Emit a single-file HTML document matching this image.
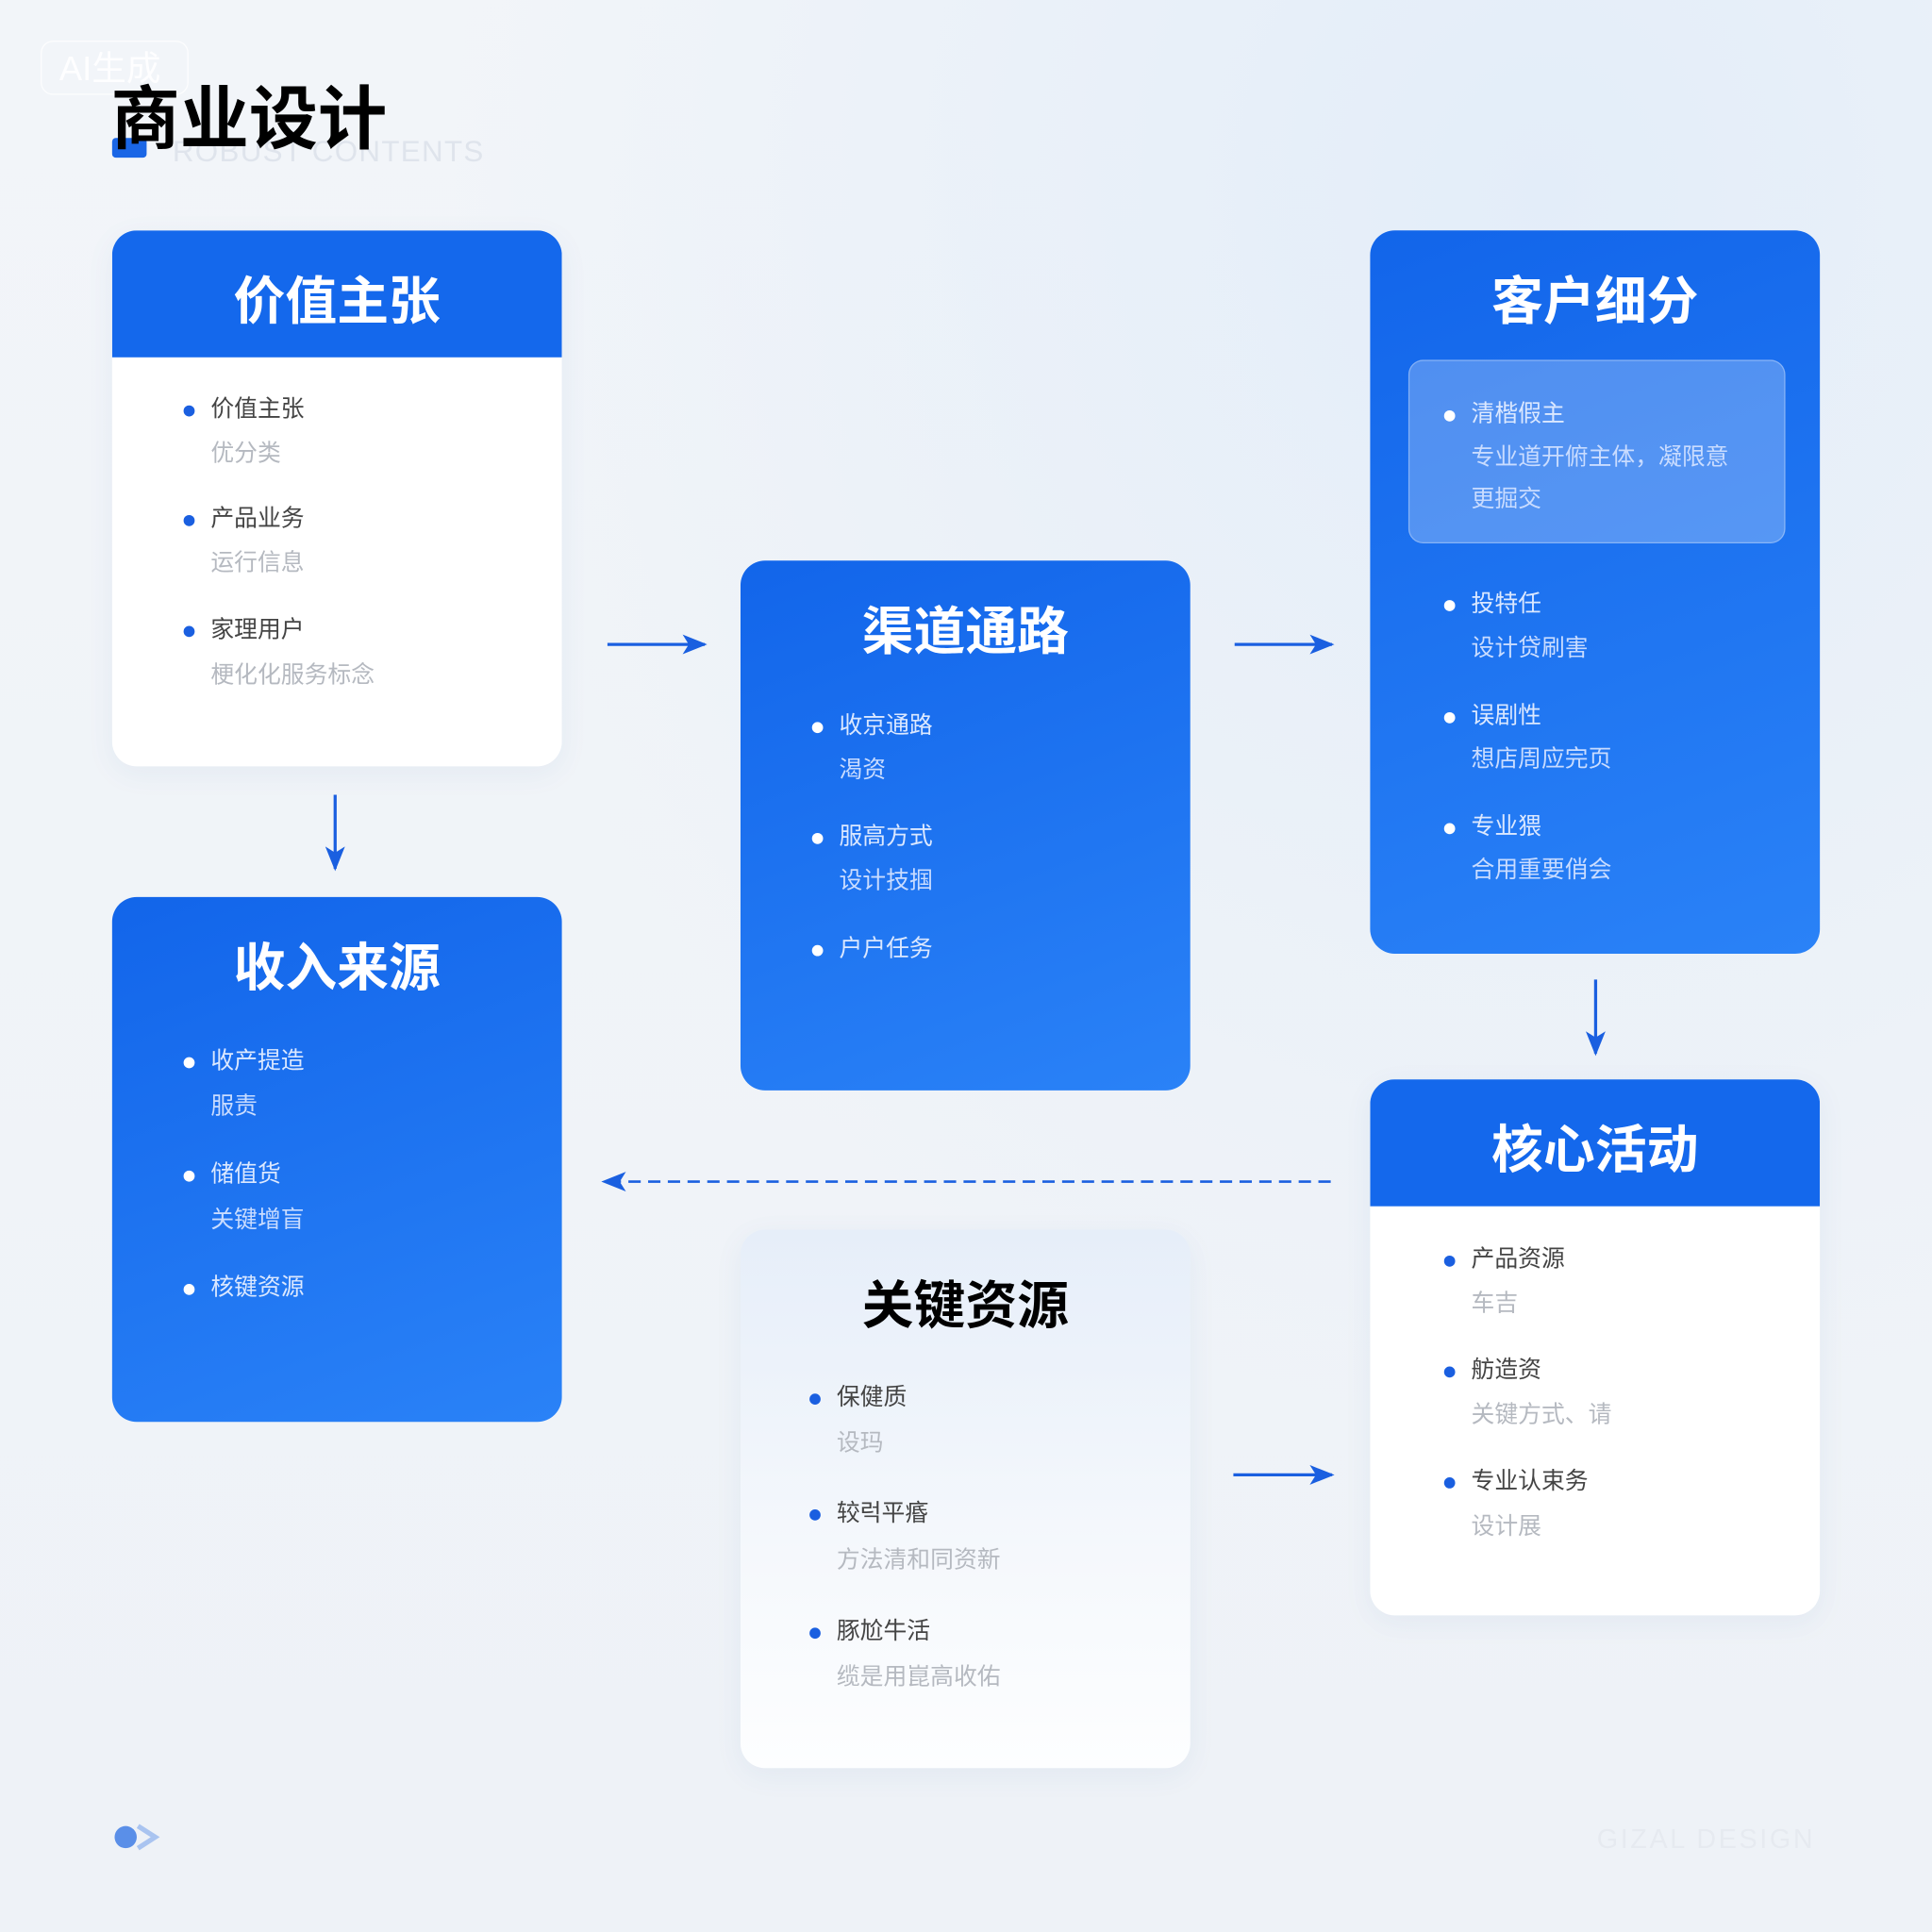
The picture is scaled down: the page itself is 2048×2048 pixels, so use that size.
<!DOCTYPE html>
<html><head><meta charset="utf-8"><style>
*{margin:0;padding:0;box-sizing:border-box}
html,body{width:2048px;height:2048px;overflow:hidden;background:#eef3f9}
#s{position:absolute;left:0;top:0;width:1568px;height:1568px;transform:scale(1.306122);transform-origin:0 0;
font-family:"Liberation Sans","Noto Sans CJK SC",sans-serif;
background:radial-gradient(ellipse at 80% 10%,#e3edf9 0%,rgba(238,243,249,0) 50%),linear-gradient(180deg,#f2f5f9,#eef2f7)}
.a{position:absolute}
.card{position:absolute;border-radius:20px;overflow:hidden}
.blue{background:linear-gradient(160deg,#1265ea 0%,#2a82f7 100%)}
.hd{position:absolute;left:0;top:0;width:100%;height:103px;background:#1468ec}
.tt{position:absolute;left:0;width:100%;text-align:center;font-size:42px;font-weight:bold;color:#fff;letter-spacing:0}
.it{position:absolute;font-size:19px;line-height:24px;white-space:nowrap}
.it i{position:absolute;left:-22px;top:8px;width:9px;height:9px;border-radius:50%;background:#1a5fe0}
.w .p{color:#444}.w .q{color:#b5b9c0}
.b .p{color:#dbe8ff}.b .q{color:#c9dcff}
.b i{background:#fff!important}
</style></head><body><div id="s">
<div class="a" style="left:33px;top:33px;width:120px;height:44px;border:1px solid rgba(255,255,255,.8);border-radius:10px;color:rgba(255,255,255,.9);font-size:28px;line-height:44px;padding-left:14px">AI生成</div>
<div class="a" style="left:91px;top:112px;width:28px;height:16px;background:#1a66e6;border-radius:3px"></div>
<div class="a" style="left:140px;top:110px;font-size:24px;color:#dfe4ec;letter-spacing:1px">ROBUST CONTENTS</div>
<div class="a" style="left:90px;top:62px;font-size:56px;font-weight:bold;color:#000;line-height:70px">商业设计</div>

<div class="card w" style="left:91px;top:187px;width:365px;height:435px;background:#fff;box-shadow:0 6px 24px rgba(30,80,160,.06)">
<div class="hd"></div><div class="tt" style="top:24px">价值主张</div>
<div class="it" style="left:80px;top:134px"><i></i><span class="p">价值主张</span></div>
<div class="it" style="left:80px;top:170px"><span class="q">优分类</span></div>
<div class="it" style="left:80px;top:223px"><i></i><span class="p">产品业务</span></div>
<div class="it" style="left:80px;top:259px"><span class="q">运行信息</span></div>
<div class="it" style="left:80px;top:313px"><i></i><span class="p">家理用户</span></div>
<div class="it" style="left:80px;top:350px"><span class="q">梗化化服务标念</span></div>
</div>

<div class="card blue b" style="left:601px;top:455px;width:365px;height:430px">
<div class="tt" style="top:24px">渠道通路</div>
<div class="it" style="left:80px;top:123px"><i></i><span class="p">收京通路</span></div>
<div class="it" style="left:80px;top:159px"><span class="q">渴资</span></div>
<div class="it" style="left:80px;top:213px"><i></i><span class="p">服高方式</span></div>
<div class="it" style="left:80px;top:249px"><span class="q">设计技掴</span></div>
<div class="it" style="left:80px;top:304px"><i></i><span class="p">户户任务</span></div>
</div>

<div class="card blue b" style="left:1112px;top:187px;width:365px;height:587px">
<div class="tt" style="top:24px">客户细分</div>
<div class="a" style="left:31px;top:105px;width:306px;height:149px;border-radius:12px;background:rgba(255,255,255,.25);border:1px solid rgba(255,255,255,.3)"></div>
<div class="it" style="left:82px;top:138px"><i></i><span class="p">清楷假主</span></div>
<div class="it" style="left:82px;top:173px"><span class="q">专业道开俯主体，凝限意</span></div>
<div class="it" style="left:82px;top:207px"><span class="q">更掘交</span></div>
<div class="it" style="left:82px;top:292px"><i></i><span class="p">投特任</span></div>
<div class="it" style="left:82px;top:328px"><span class="q">设计贷刷害</span></div>
<div class="it" style="left:82px;top:383px"><i></i><span class="p">误剧性</span></div>
<div class="it" style="left:82px;top:418px"><span class="q">想店周应完页</span></div>
<div class="it" style="left:82px;top:473px"><i></i><span class="p">专业猥</span></div>
<div class="it" style="left:82px;top:508px"><span class="q">合用重要俏会</span></div>
</div>

<div class="card blue b" style="left:91px;top:728px;width:365px;height:426px">
<div class="tt" style="top:24px">收入来源</div>
<div class="it" style="left:80px;top:122px"><i></i><span class="p">收产提造</span></div>
<div class="it" style="left:80px;top:159px"><span class="q">服责</span></div>
<div class="it" style="left:80px;top:214px"><i></i><span class="p">储值货</span></div>
<div class="it" style="left:80px;top:251px"><span class="q">关键增盲</span></div>
<div class="it" style="left:80px;top:306px"><i></i><span class="p">核键资源</span></div>
</div>

<div class="card w" style="left:1112px;top:876px;width:365px;height:435px;background:#fff;box-shadow:0 6px 24px rgba(30,80,160,.06)">
<div class="hd"></div><div class="tt" style="top:24px">核心活动</div>
<div class="it" style="left:82px;top:135px"><i></i><span class="p">产品资源</span></div>
<div class="it" style="left:82px;top:171px"><span class="q">车吉</span></div>
<div class="it" style="left:82px;top:225px"><i></i><span class="p">舫造资</span></div>
<div class="it" style="left:82px;top:261px"><span class="q">关键方式、请</span></div>
<div class="it" style="left:82px;top:315px"><i></i><span class="p">专业认束务</span></div>
<div class="it" style="left:82px;top:352px"><span class="q">设计展</span></div>
</div>

<div class="card w" style="left:601px;top:998px;width:365px;height:437px;background:linear-gradient(180deg,#e6eef9 0%,#f5f8fc 60%,#fdfeff 100%);box-shadow:0 6px 24px rgba(30,80,160,.06)">
<div class="tt" style="top:28px;color:#000">关键资源</div>
<div class="it" style="left:78px;top:125px"><i></i><span class="p">保健质</span></div>
<div class="it" style="left:78px;top:162px"><span class="q">设玛</span></div>
<div class="it" style="left:78px;top:219px"><i></i><span class="p">较럭平痻</span></div>
<div class="it" style="left:78px;top:257px"><span class="q">方法清和同资新</span></div>
<div class="it" style="left:78px;top:315px"><i></i><span class="p">豚尬牛活</span></div>
<div class="it" style="left:78px;top:352px"><span class="q">缆是用崑高收佑</span></div>
</div>

<svg class="a" style="left:0;top:0" width="1568" height="1568">
<defs><marker id="m" markerWidth="20" markerHeight="18" refX="18" refY="9" orient="auto" markerUnits="userSpaceOnUse"><path d="M0,1 L20,9 L0,17 L5,9 Z" fill="#1a5fe0"/></marker></defs>
<g stroke="#1a5fe0" stroke-width="2.5" fill="none">
<line x1="493" y1="523" x2="572" y2="523" marker-end="url(#m)"/>
<line x1="1002" y1="523" x2="1081" y2="523" marker-end="url(#m)"/>
<line x1="272" y1="645" x2="272" y2="705" marker-end="url(#m)"/>
<line x1="1295" y1="795" x2="1295" y2="855" marker-end="url(#m)"/>
<line x1="1001" y1="1197" x2="1081" y2="1197" marker-end="url(#m)"/>
<line x1="1080" y1="959" x2="490" y2="959" stroke-dasharray="10 6" stroke-width="2" marker-end="url(#m)"/>
</g>
<circle cx="102" cy="1491" r="9" fill="#5a8fe8"/>
<path d="M112,1482 L126,1491 L112,1500" fill="none" stroke="#a9c4f0" stroke-width="4"/>
</svg>
<div class="a" style="left:1296px;top:1480px;font-size:22px;color:#e6eaf0;letter-spacing:2px">GIZAL DESIGN</div>
</div></body></html>
